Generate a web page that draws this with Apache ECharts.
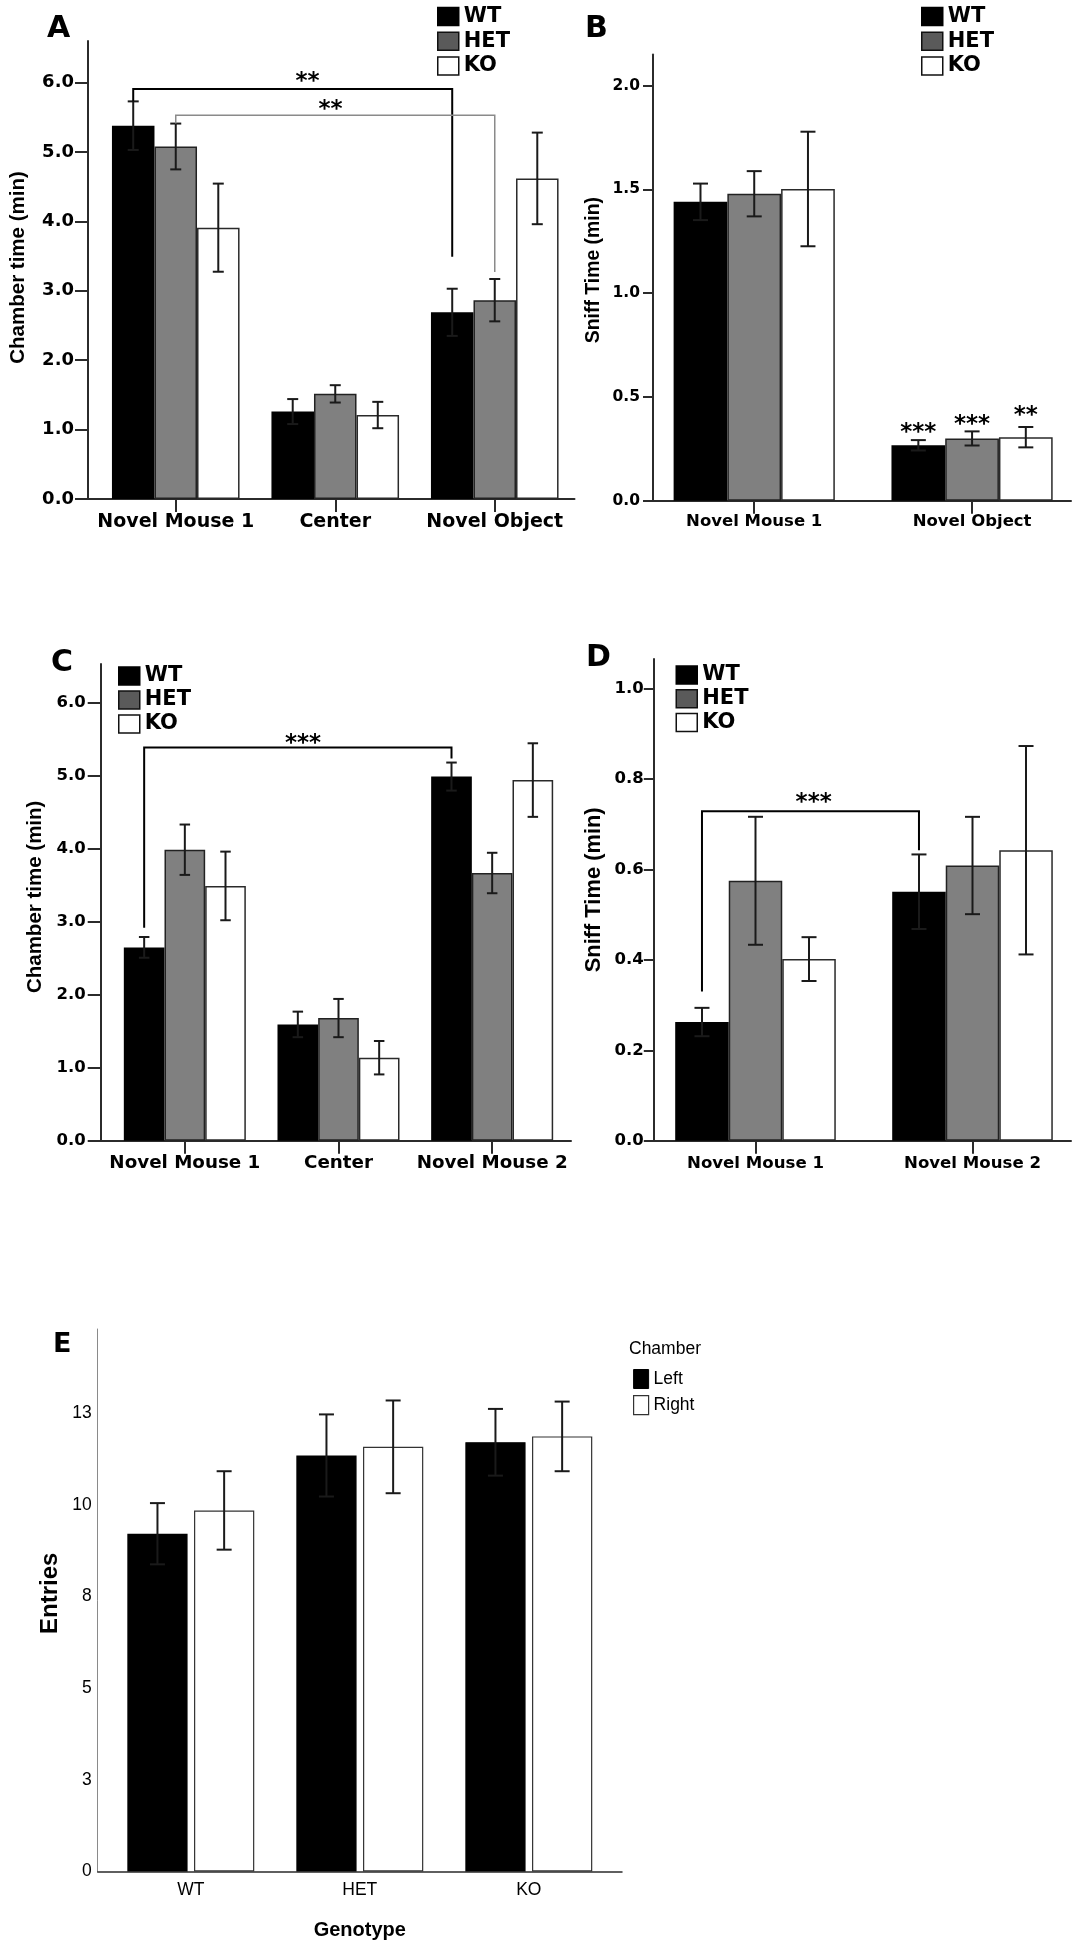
<!DOCTYPE html>
<html><head><meta charset="utf-8">
<script src="https://cdn.jsdelivr.net/npm/echarts@6/dist/echarts.min.js"></script>
<style>html,body{margin:0;padding:0;background:#fff}#c{width:1081px;height:1950px}</style>
</head><body><div id="c"></div>
<script>
// ================= DATA =================
const groupNames = ['WT', 'HET', 'KO'];
const chamberNames = ['Left', 'Right'];

// Panel A : chamber time (min), session 1
const catsA = ['Novel Mouse 1', 'Center', 'Novel Object'];
const A_WT = [5.38, 1.26, 2.69];   const A_WT_sem = [0.35, 0.18, 0.34];
const A_HET = [5.08, 1.515, 2.865]; const A_HET_sem = [0.33, 0.125, 0.305];
const A_KO = [3.91, 1.21, 4.62];   const A_KO_sem = [0.635, 0.19, 0.66];
const A_ticks = [0, 1, 2, 3, 4, 5, 6];
// brackets: [catL, barL, yLeftEnd, yTop, catR, barR, yRightEnd, textCatX, textY]
const A_brackets = [[0, 0, 5.73, 5.91, 2, 0, 3.49, 0.826, 6.06], [0, 1, 5.41, 5.53, 2, 1, 3.27, 0.97, 5.66]];
const A_bracketText = ['**', '**'];

// Panel B : sniff time (min), session 1
const catsB = ['Novel Mouse 1', 'Novel Object'];
const B_WT = [1.44, 0.267];  const B_WT_sem = [0.088, 0.025];
const B_HET = [1.479, 0.30]; const B_HET_sem = [0.109, 0.034];
const B_KO = [1.502, 0.306]; const B_KO_sem = [0.276, 0.049];
const B_ticks = [0, 0.5, 1.0, 1.5, 2.0];
// stars: [cat, bar, y]
const B_stars = [[1, 0, 0.344], [1, 1, 0.385], [1, 2, 0.427]];
const B_starText = ['***', '***', '**'];

// Panel C : chamber time (min), session 2
const catsC = ['Novel Mouse 1', 'Center', 'Novel Mouse 2'];
const C_WT = [2.648, 1.593, 4.988]; const C_WT_sem = [0.142, 0.175, 0.192];
const C_HET = [3.986, 1.68, 3.667]; const C_HET_sem = [0.345, 0.262, 0.277];
const C_KO = [3.49, 1.137, 4.94];   const C_KO_sem = [0.47, 0.229, 0.504];
const C_ticks = [0, 1, 2, 3, 4, 5, 6];
const C_brackets = [[0, 0, 2.917, 5.385, 2, 0, 5.234, 0.769, 5.49]];
const C_bracketText = ['***'];

// Panel D : sniff time (min), session 2
const catsD = ['Novel Mouse 1', 'Novel Mouse 2'];
const D_WT = [0.2626, 0.551];  const D_WT_sem = [0.0314, 0.0825];
const D_HET = [0.5752, 0.609]; const D_HET_sem = [0.1416, 0.1077];
const D_KO = [0.4019, 0.6428]; const D_KO_sem = [0.0485, 0.2306];
const D_ticks = [0, 0.2, 0.4, 0.6, 0.8, 1.0];
const D_brackets = [[0, 0, 0.33, 0.729, 1, 0, 0.643, 0.268, 0.757]];
const D_bracketText = ['***'];

// Panel E : entries
const catsE = ['WT', 'HET', 'KO'];
const E_Left = [9.215, 11.35, 11.71];   const E_Left_sem = [0.835, 1.12, 0.91];
const E_Right = [9.85, 11.585, 11.87];  const E_Right_sem = [1.07, 1.265, 0.95];
const E_tickValues = [0, 2.5, 5, 7.5, 10, 12.5];
const E_tickLabels = ['0', '3', '5', '8', '10', '13'];

// ================= STYLE / LAYOUT =================
const FH = 'DejaVu Sans';
const FV = 'Liberation Sans';
const FN = '"Liberation Sans", Arial, sans-serif';
const AX = '#2b2b2b';
const fillStyles = {
  WT: {color: '#000', borderColor: '#000', borderWidth: 1.5},
  HET: {color: '#808080', borderColor: '#222', borderWidth: 1.5},
  KO: {color: '#fff', borderColor: '#2a2a2a', borderWidth: 1.5},
  Left: {color: '#000', borderColor: '#000', borderWidth: 1.2},
  Right: {color: '#fff', borderColor: '#333', borderWidth: 1.2}
};
const legendIconStyles = {
  WT: {color: '#000', borderColor: '#000', borderWidth: 1.5},
  HET: {color: '#5a5a5a', borderColor: '#111', borderWidth: 1.5},
  KO: {color: '#fff', borderColor: '#111', borderWidth: 1.5},
  Left: {color: '#000', borderColor: '#000', borderWidth: 1},
  Right: {color: '#fff', borderColor: '#333', borderWidth: 1.2}
};

const panels = [
  { letter: 'A', letterPos: [47, 14], cats: catsA, names: groupNames,
    vals: [A_WT, A_HET, A_KO], sems: [A_WT_sem, A_HET_sem, A_KO_sem],
    yMax: 6.6, ticks: A_ticks, fmt: v => v.toFixed(1),
    frame: [88, 41, 574.5, 499], plotLeft: 96, plotWidth: 478.5, catGap: 0.20, barGap: 0,
    tickLen: 13, labMargin: 14, tickFont: 18, xFont: 19, xMargin: 13.3, xTick: true,
    yName: 'Chamber time (min)', yNameFont: 20.5, yNameFamily: FV, nameGap: 59, namePad: 5,
    cap: 11, errW: 2, axisW: 2,
    brackets: A_brackets, bracketText: A_bracketText,
    bracketStyle: [{stroke: '#000', lineWidth: 2}, {stroke: '#8a8a8a', lineWidth: 1.5}],
    legend: {left: 437, top: 6.1, itemWidth: 21, itemHeight: 18, itemGap: 3.7, font: 21, family: FH}
  },
  { letter: 'B', letterPos: [585, 14], cats: catsB, names: groupNames,
    vals: [B_WT, B_HET, B_KO], sems: [B_WT_sem, B_HET_sem, B_KO_sem],
    yMax: 2.15, ticks: B_ticks, fmt: v => v.toFixed(1),
    frame: [653, 54.5, 1071, 500.7], plotLeft: 645.3, plotWidth: 447, catGap: 0.26, barGap: 0,
    tickLen: 10, labMargin: 13, tickFont: 15.5, xFont: 16.5, xMargin: 13, xTick: true,
    yName: 'Sniff Time (min)', yNameFont: 19.4, yNameFamily: FV, nameGap: 50, namePad: 15,
    cap: 15, errW: 2, axisW: 2,
    stars: B_stars, starText: B_starText,
    legend: {left: 921, top: 6.1, itemWidth: 21, itemHeight: 18, itemGap: 3.7, font: 21, family: FH}
  },
  { letter: 'C', letterPos: [51, 648.5], cats: catsC, names: groupNames,
    vals: [C_WT, C_HET, C_KO], sems: [C_WT_sem, C_HET_sem, C_KO_sem],
    yMax: 6.53, ticks: C_ticks, fmt: v => v.toFixed(1),
    frame: [100.7, 664, 571, 1140.7], plotLeft: 108, plotWidth: 461, catGap: 0.206, barGap: 0,
    tickLen: 13, labMargin: 15, tickFont: 16.5, xFont: 18.3, xMargin: 13.2, xTick: true,
    yName: 'Chamber time (min)', yNameFont: 20.5, yNameFamily: FV, nameGap: 55, namePad: 11,
    cap: 10.5, errW: 2, axisW: 2,
    brackets: C_brackets, bracketText: C_bracketText,
    bracketStyle: [{stroke: '#000', lineWidth: 2}],
    legend: {left: 118, top: 665.5, itemWidth: 21, itemHeight: 18, itemGap: 3, font: 21, family: FH}
  },
  { letter: 'D', letterPos: [586, 643.5], cats: catsD, names: groupNames,
    vals: [D_WT, D_HET, D_KO], sems: [D_WT_sem, D_HET_sem, D_KO_sem],
    yMax: 1.066, ticks: D_ticks, fmt: v => v.toFixed(1),
    frame: [653.8, 659, 1071, 1140.7], plotLeft: 647, plotWidth: 444, catGap: 0.26, barGap: 0,
    tickLen: 10, labMargin: 10, tickFont: 16.5, xFont: 16.6, xMargin: 14.6, xTick: true,
    yName: 'Sniff Time (min)', yNameFont: 21.9, yNameFamily: FV, nameGap: 49, namePad: 20,
    cap: 15, errW: 2, axisW: 2,
    brackets: D_brackets, bracketText: D_bracketText,
    bracketStyle: [{stroke: '#000', lineWidth: 2}],
    legend: {left: 675.5, top: 664.5, itemWidth: 21, itemHeight: 18, itemGap: 2.7, font: 21, family: FH}
  },
  { letter: 'E', letterPos: [53, 1331], letterFont: 27, cats: catsE, names: chamberNames,
    vals: [E_Left, E_Right], sems: [E_Left_sem, E_Right_sem],
    yMax: 14.8, ticks: E_tickValues, fmt: v => E_tickLabels[E_tickValues.indexOf(v)],
    frame: [97.7, 1329, 622, 1871.5], plotLeft: 106.3, plotWidth: 507, catGap: 0.249, barGap: 0.107,
    tickLen: 0, labMargin: 6, tickFont: 17.5, tickWeight: 'normal', tickFamily: FN,
    xFont: 17.5, xWeight: 'normal', xFamily: FN, xMargin: 10, xTick: false,
    yName: 'Entries', yNameFont: 24, yNameFamily: FV, nameGap: 35, namePad: 14,
    xName: 'Genotype', xNameFont: 20, xNameGap: 48.5,
    cap: 15, errW: 2, axisW: 1.5, yAxisColor: '#8a8a8a', yAxisW: 1,
    legend: {left: 633, top: 1369, itemWidth: 15, itemHeight: 19, itemGap: 6, font: 17.5, family: FN, weight: 'normal'},
    legendTitle: {text: 'Chamber', left: 629, top: 1340, font: 17.5}
  }
];

// ================= BUILD =================
function barCenter(api, cat, bi, n, gap, bg) {
  const band = api.size([1, 0])[0];
  const total = band * (1 - gap);
  const w = total / (n + (n - 1) * bg);
  return api.coord([cat, 0])[0] - total / 2 + w / 2 + bi * w * (1 + bg);
}

const option = {
  animation: false, backgroundColor: '#fff',
  title: [], legend: [], grid: [], xAxis: [], yAxis: [], series: []
};

panels.forEach((p, pi) => {
  const gF = pi * 2, gP = pi * 2 + 1;
  const [x0, y0, x1, y1] = p.frame;
  option.grid.push({left: x0, top: y0, width: x1 - x0, height: y1 - y0});
  option.grid.push({left: p.plotLeft, top: y0, width: p.plotWidth, height: y1 - y0});

  // frame axes (lines, y ticks, labels, names)
  option.xAxis.push({
    type: 'value', gridIndex: gF, min: 0, max: 1,
    axisLine: {show: true, onZero: false, lineStyle: {color: AX, width: p.axisW}},
    axisTick: {show: false}, axisLabel: {show: false}, splitLine: {show: false}
  });
  option.yAxis.push({
    type: 'value', gridIndex: gF, min: 0, max: p.yMax,
    axisLine: {show: true, onZero: false, lineStyle: {color: p.yAxisColor || AX, width: p.yAxisW || p.axisW}},
    axisTick: {show: p.tickLen > 0, length: p.tickLen, customValues: p.ticks, lineStyle: {color: AX, width: 2}},
    axisLabel: {customValues: p.ticks, formatter: p.fmt, margin: p.labMargin, color: '#000',
      fontSize: p.tickFont, fontWeight: p.tickWeight || 'bold', fontFamily: p.tickFamily || FH},
    splitLine: {show: false},
    name: p.yName, nameLocation: 'middle', nameGap: p.nameGap, nameRotate: 90,
    nameTextStyle: {color: '#000', fontSize: p.yNameFont, fontWeight: 'bold', fontFamily: p.yNameFamily,
      padding: [0, 0, 0, p.namePad]}
  });

  // plot axes
  const xa = {
    type: 'category', gridIndex: gP, data: p.cats,
    axisLine: {show: false},
    axisTick: {show: p.xTick, alignWithLabel: true, length: 13, lineStyle: {color: AX, width: 2}},
    axisLabel: {interval: 0, margin: p.xMargin, color: '#000', fontSize: p.xFont,
      fontWeight: p.xWeight || 'bold', fontFamily: p.xFamily || FH},
    splitLine: {show: false}
  };
  if (p.xName) {
    xa.name = p.xName; xa.nameLocation = 'middle'; xa.nameGap = p.xNameGap;
    xa.nameTextStyle = {color: '#000', fontSize: p.xNameFont, fontWeight: 'bold', fontFamily: FN};
  }
  option.xAxis.push(xa);
  option.yAxis.push({type: 'value', gridIndex: gP, min: 0, max: p.yMax, show: false, splitLine: {show: false}});

  // bars
  const n = p.names.length;
  p.names.forEach((nm, si) => {
    option.series.push({
      type: 'bar', name: nm, xAxisIndex: gP, yAxisIndex: gP, data: p.vals[si],
      barGap: (p.barGap * 100) + '%', barCategoryGap: (p.catGap * 100) + '%',
      itemStyle: fillStyles[nm], emphasis: {disabled: true}, silent: true, z: 2
    });
  });

  // error bars
  const errData = [];
  p.names.forEach((nm, si) => p.vals[si].forEach((v, ci) => errData.push([ci, v, si, p.sems[si][ci]])));
  option.series.push({
    type: 'custom', xAxisIndex: gP, yAxisIndex: gP, data: errData, z: 5, silent: true,
    encode: {x: 0, y: 1},
    renderItem: (params, api) => {
      const ci = api.value(0), m = api.value(1), si = api.value(2), s = api.value(3);
      const cx = barCenter(api, ci, si, n, p.catGap, p.barGap);
      const yt = api.coord([ci, m + s])[1], yb = api.coord([ci, m - s])[1];
      const hw = p.cap / 2, st = {stroke: '#1a1a1a', lineWidth: p.errW};
      return {type: 'group', children: [
        {type: 'line', shape: {x1: cx, y1: yt, x2: cx, y2: yb}, style: st},
        {type: 'line', shape: {x1: cx - hw, y1: yt, x2: cx + hw, y2: yt}, style: st},
        {type: 'line', shape: {x1: cx - hw, y1: yb, x2: cx + hw, y2: yb}, style: st}
      ]};
    }
  });

  const starFont = 'bold 23px "DejaVu Sans"';
  const starDy = 4;
  // significance brackets
  if (p.brackets) {
    p.brackets.forEach((br, bi) => {
      const bs = p.bracketStyle[bi];
      option.series.push({
        type: 'custom', xAxisIndex: gP, yAxisIndex: gP, data: [br], z: 6, silent: true,
        encode: {x: 0, y: 3},
        renderItem: (params, api) => {
          const v = i => api.value(i);
          const xl = barCenter(api, v(0), v(1), n, p.catGap, p.barGap);
          const xr = barCenter(api, v(4), v(5), n, p.catGap, p.barGap);
          const yl = api.coord([v(0), v(2)])[1], yt = api.coord([v(0), v(3)])[1], yr = api.coord([v(4), v(6)])[1];
          const tc = Math.floor(v(7));
          const tx = api.coord([tc, 0])[0] + (v(7) - tc) * api.size([1, 0])[0];
          const ty = api.coord([tc, v(8)])[1] + starDy;
          return {type: 'group', children: [
            {type: 'polyline', shape: {points: [[xl, yl], [xl, yt], [xr, yt], [xr, yr]]},
              style: {stroke: bs.stroke, lineWidth: bs.lineWidth, fill: null}},
            {type: 'text', x: tx, y: ty, style: {text: p.bracketText[bi], fill: '#000', font: starFont,
              align: 'center', verticalAlign: 'middle', textAlign: 'center', textVerticalAlign: 'middle'}}
          ]};
        }
      });
    });
  }
  // stand-alone stars
  if (p.stars) {
    option.series.push({
      type: 'custom', xAxisIndex: gP, yAxisIndex: gP, data: p.stars, z: 6, silent: true,
      encode: {x: 0, y: 2},
      renderItem: (params, api) => {
        const ci = api.value(0), bi = api.value(1), y = api.value(2);
        const cx = barCenter(api, ci, bi, n, p.catGap, p.barGap);
        const cy = api.coord([ci, y])[1] + starDy;
        return {type: 'text', x: cx, y: cy, style: {text: p.starText[params.dataIndex], fill: '#000', font: starFont,
          align: 'center', verticalAlign: 'middle', textAlign: 'center', textVerticalAlign: 'middle'}};
      }
    });
  }

  // legend
  const L = p.legend;
  option.legend.push({
    orient: 'vertical', left: L.left, top: L.top, padding: 0, icon: 'rect',
    itemWidth: L.itemWidth, itemHeight: L.itemHeight, itemGap: L.itemGap, selectedMode: false,
    textStyle: {color: '#000', fontSize: L.font, fontWeight: L.weight || 'bold', fontFamily: L.family},
    data: p.names.map(nm => ({name: nm, itemStyle: legendIconStyles[nm]}))
  });

  // panel letter
  option.title.push({
    text: p.letter, left: p.letterPos[0], top: p.letterPos[1], padding: 0,
    textStyle: {color: '#000', fontSize: p.letterFont || 30, fontWeight: 'bold', fontFamily: FH}
  });
  if (p.legendTitle) {
    const t = p.legendTitle;
    option.title.push({text: t.text, left: t.left, top: t.top, padding: 0,
      textStyle: {color: '#000', fontSize: t.font, fontWeight: 'normal', fontFamily: FN}});
  }
});

const chart = echarts.init(document.getElementById('c'), null, {renderer: 'canvas', width: 1081, height: 1950});
chart.setOption(option);
</script>
</body></html>
